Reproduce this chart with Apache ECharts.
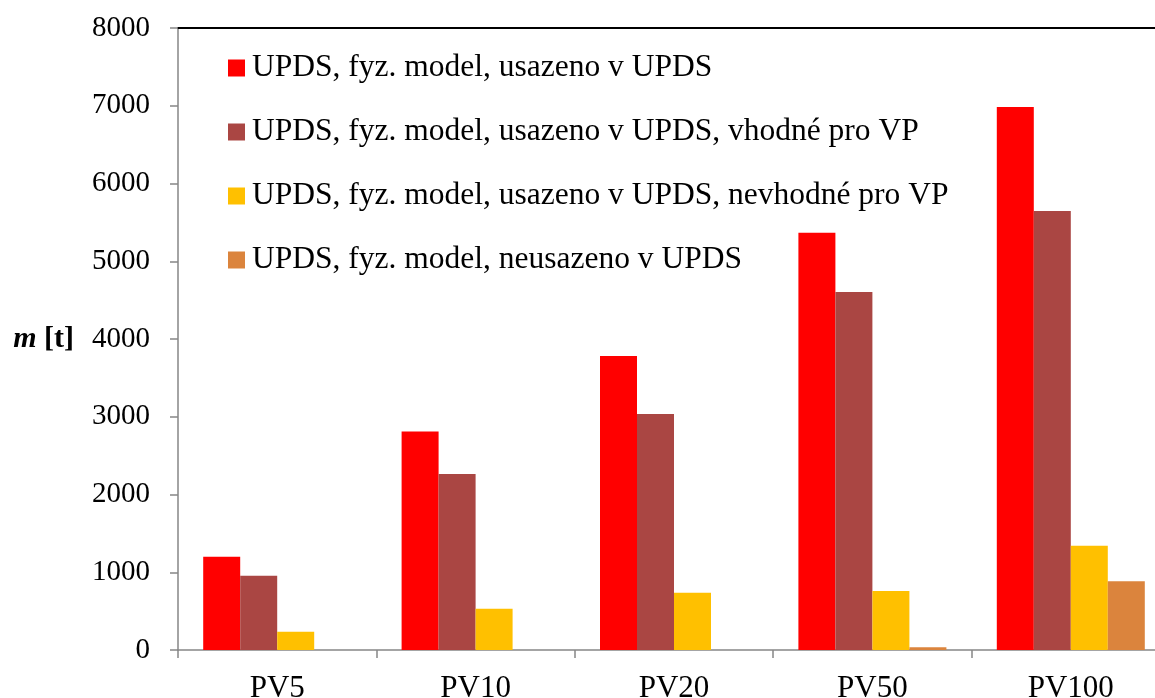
<!DOCTYPE html>
<html>
<head>
<meta charset="utf-8">
<script src="https://cdn.jsdelivr.net/npm/echarts@6/dist/echarts.min.js"></script>
<style>
  html, body { margin: 0; padding: 0; background: #fff; overflow: hidden; }
  /* the plot runs a little past the right edge of the frame */
  #frame { width: 1155px; height: 698px; overflow: hidden; position: relative; }
  #chart { width: 1170px; height: 698px; position: absolute; left: 0; top: 0; }
</style>
</head>
<body>
<div id="frame"><div id="chart"></div></div>
<script>
// Sediment mass per flood scenario
const categories = ['PV5', 'PV10', 'PV20', 'PV50', 'PV100'];
const seriesNames = [
  'UPDS, fyz. model, usazeno v UPDS',
  'UPDS, fyz. model, usazeno v UPDS, vhodné pro VP',
  'UPDS, fyz. model, usazeno v UPDS, nevhodné pro VP',
  'UPDS, fyz. model, neusazeno v UPDS'
];
const settledTotal = [1200, 2810, 3780, 5365, 6985];
const settledSuitable = [955, 2265, 3035, 4605, 5645];
const settledUnsuitable = [235, 530, 735, 760, 1340];
const notSettled = [0, 0, 0, 35, 885];
const yTicks = [0, 1000, 2000, 3000, 4000, 5000, 6000, 7000, 8000];

const colors = ['#FF0000', '#AA4643', '#FFC000', '#DB843D'];
const seriesValues = [settledTotal, settledSuitable, settledUnsuitable, notSettled];
const FONT = 'Liberation Serif, Times New Roman, serif';

const chart = echarts.init(document.getElementById('chart'), null, { renderer: 'canvas' });

chart.setOption({
  animation: false,
  backgroundColor: '#fff',
  textStyle: { fontFamily: FONT, color: '#000' },
  grid: { left: 178, top: 28, bottom: 48, right: 0, containLabel: false, outerBoundsMode: 'none' },
  legend: {
    orient: 'vertical',
    left: 228,
    top: 52,
    padding: 0,
    icon: 'rect',
    itemWidth: 17,
    itemHeight: 17,
    itemGap: 32,
    data: seriesNames,
    textStyle: { fontFamily: FONT, fontSize: 31.5, color: '#000', lineHeight: 30, padding: [0, 0, 0, 2] }
  },
  xAxis: [
    {
      type: 'category',
      data: categories,
      axisLine: { lineStyle: { color: '#868686', width: 1.5 } },
      axisTick: { show: true, length: 8, lineStyle: { color: '#868686', width: 1.5 } },
      axisLabel: { fontFamily: FONT, fontSize: 31, color: '#000', margin: 23 }
    },
    {
      type: 'category',
      position: 'top',
      data: categories,
      axisLine: { show: true, lineStyle: { color: '#000', width: 2 } },
      axisTick: { show: false },
      axisLabel: { show: false }
    }
  ],
  yAxis: {
    type: 'value',
    min: yTicks[0],
    max: yTicks[yTicks.length - 1],
    interval: yTicks[1] - yTicks[0],
    name: '{a|m}{b| [t]}',
    nameLocation: 'middle',
    nameRotate: 0,
    nameGap: 104,
    nameTextStyle: {
      rich: {
        a: { fontFamily: FONT, fontSize: 30, fontWeight: 'bold', fontStyle: 'italic', color: '#000' },
        b: { fontFamily: FONT, fontSize: 30, fontWeight: 'bold', color: '#000' }
      }
    },
    splitLine: { show: false },
    axisLine: { show: true, lineStyle: { color: '#868686', width: 1.5 } },
    axisTick: { show: true, length: 8, lineStyle: { color: '#868686', width: 1.5 } },
    axisLabel: {
      fontFamily: FONT, fontSize: 29, color: '#000', margin: 28,
      formatter: (v) => String(v)
    }
  },
  series: seriesNames.map((name, i) => ({
    name: name,
    type: 'bar',
    data: seriesValues[i],
    barWidth: 37,
    barGap: '0%',
    itemStyle: { color: colors[i] }
  }))
});
</script>
</body>
</html>
